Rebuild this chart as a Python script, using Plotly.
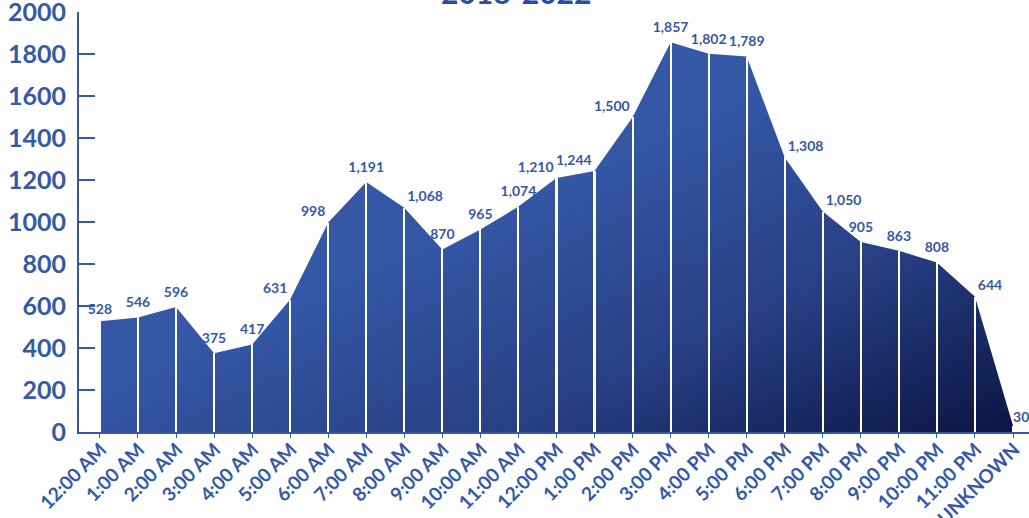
import base64
import plotly.graph_objects as go

# ---- data ----
hours = ["12:00 AM", "1:00 AM", "2:00 AM", "3:00 AM", "4:00 AM", "5:00 AM",
         "6:00 AM", "7:00 AM", "8:00 AM", "9:00 AM", "10:00 AM", "11:00 AM",
         "12:00 PM", "1:00 PM", "2:00 PM", "3:00 PM", "4:00 PM", "5:00 PM",
         "6:00 PM", "7:00 PM", "8:00 PM", "9:00 PM", "10:00 PM", "11:00 PM",
         "UNKNOWN"]
counts = [528, 546, 596, 375, 417, 631, 998, 1191, 1068, 870, 965, 1074,
          1210, 1244, 1500, 1857, 1802, 1789, 1308, 1050, 905, 863, 808, 644, 30]
y_ticks = [0, 200, 400, 600, 800, 1000, 1200, 1400, 1600, 1800, 2000]
title_text = "2018-2022"

# ---- styles ----
BLUE = "#3558A8"
FONT = "Lato"
label_pos = ["top center", "top center", "top center", "top center", "top center",
             "top left", "top left", "top center", "top right", "top center",
             "top center", "top center", "top left", "top left", "top left",
             "top center", "top center", "top center", "top right", "top right",
             "top center", "top center", "top center", "top right", "top right"]
label_pad = [9 if p == "top center" else 3 for p in label_pos]
label_pad[0] = 4
label_pad[-1] = 0

y_max = y_ticks[-1]

# diagonal gradient used for the area fill (top-left light -> bottom-right dark)
svg = (
    '<svg xmlns="http://www.w3.org/2000/svg" width="100" height="100" '
    'viewBox="0 0 100 100" preserveAspectRatio="none">'
    '<defs><linearGradient id="g" x1="0" y1="0" x2="1" y2="1">'
    '<stop offset="0" stop-color="#3659A9"/>'
    '<stop offset="0.45" stop-color="#3457A6"/>'
    '<stop offset="0.72" stop-color="#283F84"/>'
    '<stop offset="1" stop-color="#0A1543"/>'
    '</linearGradient></defs>'
    '<rect x="0" y="0" width="100" height="100" fill="url(#g)"/></svg>'
)
gradient_uri = "data:image/svg+xml;base64," + base64.b64encode(svg.encode()).decode()

fig = go.Figure()

# white separators at each category
fig.add_trace(go.Bar(
    x=hours, y=counts, width=0.055,
    marker=dict(color="white", line=dict(width=0)),
    hoverinfo="skip", showlegend=False,
))

# area outline (transparent) + white cover above it (reveals gradient below the curve)
fig.add_trace(go.Scatter(
    x=hours, y=counts, mode="lines",
    line=dict(color="rgba(0,0,0,0)", width=0),
    hoverinfo="skip", showlegend=False,
))
fig.add_trace(go.Scatter(
    x=hours, y=[y_max * 1.01] * len(hours), mode="lines",
    line=dict(color="rgba(0,0,0,0)", width=0),
    fill="tonexty", fillcolor="white",
    hoverinfo="skip", showlegend=False,
))

# data labels
fig.add_trace(go.Scatter(
    x=hours, y=counts, mode="markers+text",
    marker=dict(size=label_pad, color="rgba(0,0,0,0)", opacity=0,
                line=dict(width=0)),
    text=[f"{v:,}" for v in counts],
    textposition=label_pos,
    textfont=dict(family=FONT, size=14, color=BLUE, weight="bold"),
    cliponaxis=False,
    hovertemplate="%{x}: %{y:,}<extra></extra>", showlegend=False,
))

fig.add_layout_image(dict(
    source=gradient_uri, xref="x", yref="y",
    x=0, y=y_max, sizex=len(hours) - 1, sizey=y_max,
    xanchor="left", yanchor="top", sizing="stretch", layer="below",
))

fig.add_annotation(
    text=title_text, xref="paper", yref="paper", x=0.46, y=1,
    xanchor="center", yanchor="bottom", showarrow=False,
    font=dict(family=FONT, size=30, color="#2C4C9C", weight="bold"),
)

fig.update_layout(
    width=1029, height=518,
    margin=dict(l=79, r=0, t=12, b=86, autoexpand=False),
    paper_bgcolor="white", plot_bgcolor="rgba(0,0,0,0)",
    showlegend=False,
    bargap=0,
    xaxis=dict(
        type="category", range=[-0.55, 24.42], automargin=False,
        showline=True, linecolor=BLUE, linewidth=2,
        ticks="outside", ticklen=4, tickcolor=BLUE, tickwidth=1,
        tickangle=-45, showgrid=False, zeroline=False,
        ticklabeloverflow="allow", ticklabelshift=1, ticklabelstandoff=-7,
        tickfont=dict(family=FONT, size=19, color=BLUE, weight="bold"),
    ),
    yaxis=dict(
        range=[0, y_max * 1.0005], tickvals=y_ticks, automargin=False,
        showline=True, linecolor=BLUE, linewidth=2,
        ticks="inside", ticklen=16, tickcolor=BLUE, tickwidth=2,
        showgrid=False, zeroline=False,
        ticklabeloverflow="allow", ticklabelstandoff=6,
        tickfont=dict(family=FONT, size=25, color=BLUE, weight="bold"),
    ),
)

fig.write_html(
    "out.html",
    config={"displayModeBar": False},
    post_script="document.body.style.margin='0';document.body.style.overflow='hidden';",
)
